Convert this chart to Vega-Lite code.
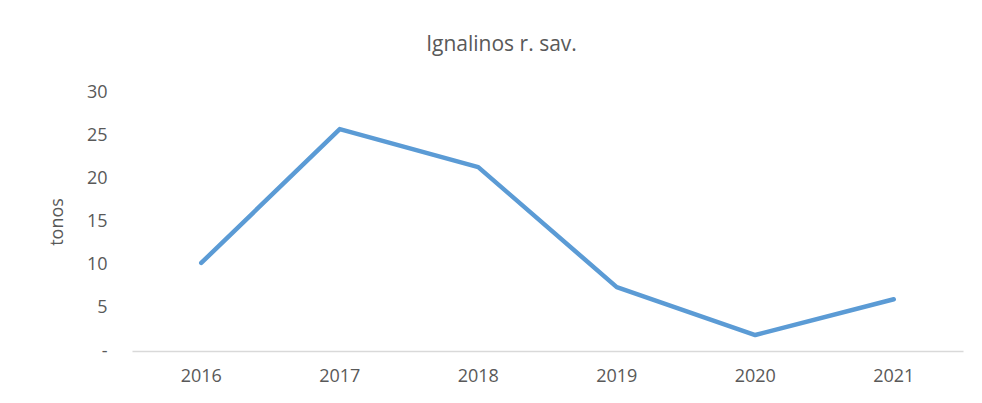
{
  "$schema": "https://vega.github.io/schema/vega-lite/v6.json",
  "width": 831,
  "height": 259,
  "autosize": {"type": "none"},
  "padding": {"left": 132, "top": 92, "right": 19, "bottom": 52},
  "background": "white",
  "config": {
    "view": {"stroke": null},
    "font": "Open Sans"
  },
  "title": {
    "text": "Ignalinos r. sav.",
    "fontSize": 21,
    "fontWeight": "normal",
    "color": "#595959",
    "font": "Open Sans",
    "anchor": "middle",
    "dx": -46,
    "offset": 28
  },
  "data": {
    "values": [
      {"year": "2016", "tonos": 10.2},
      {"year": "2017", "tonos": 25.7},
      {"year": "2018", "tonos": 21.3},
      {"year": "2019", "tonos": 7.4},
      {"year": "2020", "tonos": 1.85},
      {"year": "2021", "tonos": 6.0}
    ]
  },
  "mark": {"type": "line", "color": "#5b9bd5", "strokeWidth": 4.5, "strokeCap": "round", "strokeJoin": "round"},
  "encoding": {
    "x": {
      "field": "year",
      "type": "ordinal",
      "scale": {"type": "band", "paddingInner": 0, "paddingOuter": 0},
      "axis": {
        "title": null,
        "labelAngle": 0,
        "labelFontSize": 18,
        "labelColor": "#595959",
        "labelPadding": 16,
        "ticks": false,
        "domainColor": "#d9d9d9",
        "domainWidth": 1.5,
        "grid": false
      }
    },
    "y": {
      "field": "tonos",
      "type": "quantitative",
      "scale": {"domain": [0, 30], "nice": false},
      "axis": {
        "values": [0, 5, 10, 15, 20, 25, 30],
        "labelExpr": "datum.value == 0 ? '-  ' : datum.label",
        "title": "tonos",
        "titleFontSize": 18,
        "titleFontWeight": "normal",
        "titleColor": "#595959",
        "titlePadding": 20,
        "labelFontSize": 18,
        "labelColor": "#595959",
        "labelPadding": 25,
        "ticks": false,
        "domain": false,
        "grid": false
      }
    }
  }
}
